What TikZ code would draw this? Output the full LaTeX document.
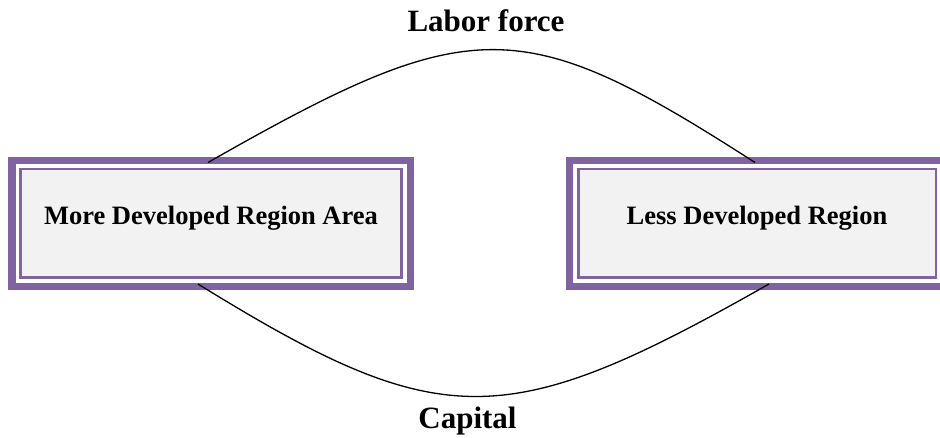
\documentclass[tikz,border=0pt]{standalone}
\usepackage{fontspec}
\setmainfont{Liberation Serif}
\definecolor{bandpurple}{HTML}{8064A2}
\definecolor{boxfill}{HTML}{F2F2F2}
\tikzset{
  regionbox/.style={draw=bandpurple, line width=2.5pt, fill=boxfill, inner sep=0pt,
    font=\bfseries\fontsize{26.5}{30}\selectfont, text height=18pt, text depth=15pt},
  bandline/.style={draw=bandpurple, line width=7.5pt},
  flowlabel/.style={font=\bfseries\fontsize{31}{34}\selectfont, inner sep=0pt, anchor=base},
  flow/.style={draw=black, line width=1.3pt}
}
\begin{document}
\begin{tikzpicture}[x=1pt,y=-1pt]
\useasboundingbox (0,0) rectangle (940,438);
% left box
\node[regionbox, minimum width=381pt, minimum height=108.5pt] (L) at (211,223.5) {More Developed Region Area};
\draw[bandline] ([shift={(-7.5pt,-7.5pt)}]L.south west) rectangle ([shift={(7.5pt,7.5pt)}]L.north east);
% right box
\node[regionbox, minimum width=357.5pt, minimum height=108.5pt] (R) at (757,223.5) {Less Developed Region};
\draw[bandline] ([shift={(-7.5pt,-7.5pt)}]R.south west) rectangle ([shift={(7.5pt,7.5pt)}]R.north east);
% labels
\node[flowlabel] (lab) at (486,32) {Labor force};
\node[flowlabel] (cap) at (467.5,428) {Capital};
% connectors
\coordinate (l1) at ([shift={(-3pt,5.5pt)}]L.north);
\coordinate (r1) at ([shift={(-2pt,5.5pt)}]R.north);
\coordinate (l2) at ([shift={(-13pt,-5pt)}]L.south);
\coordinate (r2) at ([shift={(12pt,-5pt)}]R.south);
\draw[flow] (l1) .. controls (472,12) and (521,12) .. (r1);
\draw[flow] (l2) .. controls (441,434) and (505,434) .. (r2);
\end{tikzpicture}
\end{document}
